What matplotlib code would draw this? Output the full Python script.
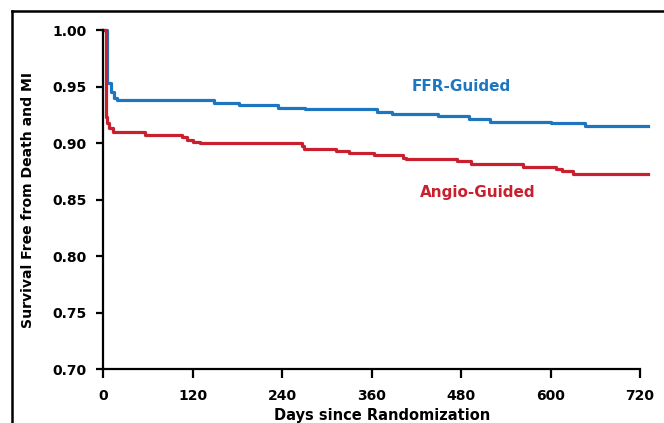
import matplotlib
matplotlib.use("Agg")
import matplotlib.pyplot as plt
from matplotlib.lines import Line2D

# Kaplan-Meier steps (days, survival)
ffr_days = [0, 5, 11, 15, 19, 149, 182, 235, 271, 367, 387, 449, 491, 519, 600, 646, 731]
ffr_surv = [1.0, 0.953, 0.945, 0.940, 0.938, 0.935, 0.934, 0.931, 0.930, 0.927,
            0.926, 0.924, 0.921, 0.919, 0.918, 0.915, 0.915]

angio_days = [0, 4, 6, 8, 13, 56, 106, 112, 120, 130, 267, 270, 312, 330, 363,
              402, 406, 474, 493, 563, 608, 615, 630, 731]
angio_surv = [1.0, 0.923, 0.918, 0.913, 0.910, 0.907, 0.905, 0.903, 0.901, 0.900,
              0.897, 0.895, 0.893, 0.891, 0.889, 0.887, 0.886, 0.884, 0.881, 0.879,
              0.877, 0.875, 0.873, 0.873]

x_ticks = [0, 120, 240, 360, 480, 600, 720]
y_ticks = [0.70, 0.75, 0.80, 0.85, 0.90, 0.95, 1.00]

blue = "#1e76c0"
red = "#c8202f"

plt.rcParams['font.family'] = ['DejaVu Sans']
plt.rcParams['font.weight'] = 'bold'

fig = plt.figure(figsize=(6.64, 4.23), dpi=100)
ax = fig.add_axes([103/664, 54/423, 537/664, 339/423])

ax.step(ffr_days, ffr_surv, where='post', color=blue, lw=2.3, clip_on=False)
ax.step(angio_days, angio_surv, where='post', color=red, lw=2.3, clip_on=False)

ax.set_xlim(0, 720)
ax.set_ylim(0.70, 1.00)
ax.set_xticks(x_ticks)
ax.set_yticks(y_ticks)
ax.set_yticklabels(["%.2f" % v for v in y_ticks])

for s in ['top', 'right']:
    ax.spines[s].set_visible(False)
for s in ['left', 'bottom']:
    ax.spines[s].set_linewidth(1.6)

ax.tick_params(axis='x', length=6.5, width=1.6, pad=8, labelsize=10)
ax.tick_params(axis='y', length=5, width=1.6, pad=7, labelsize=10)
for lab in ax.get_xticklabels() + ax.get_yticklabels():
    lab.set_fontweight('bold')

ax.set_xlabel("Days since Randomization", fontsize=10.5, fontweight='bold')
ax.xaxis.set_label_coords(0.52, -0.116)
ax.set_ylabel("Survival Free from Death and MI", fontsize=10.1, fontweight='bold')
ax.yaxis.set_label_coords(-0.127, 0.5)

ax.text(481, 0.950, "FFR-Guided", color=blue, fontsize=11, fontweight='bold',
        ha='center', va='center')
ax.text(503, 0.856, "Angio-Guided", color=red, fontsize=11, fontweight='bold',
        ha='center', va='center')

# frame around the figure (top and left edges visible)
top = 1 - 11/423
left = 12/664
fig.add_artist(Line2D([left, 1.01], [top, top], transform=fig.transFigure, color='black', lw=1.8))
fig.add_artist(Line2D([left, left], [-0.01, top], transform=fig.transFigure, color='black', lw=1.8))

fig.savefig("out.png", dpi=100)
